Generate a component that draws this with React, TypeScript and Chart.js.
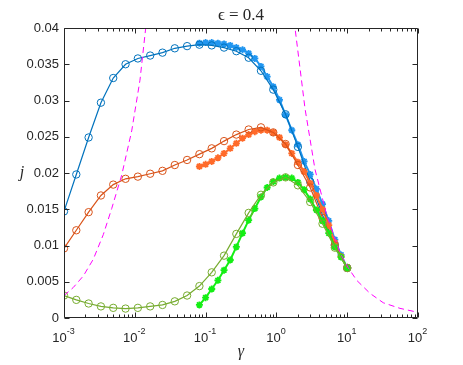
import React, { useEffect, useRef } from 'react';
import { Chart, registerables } from 'chart.js';

Chart.register(...registerables);

// gamma grid of the circle series (24 points, log-spaced 1e-3 .. 10)
const circleGamma = [
  0.001, 0.001492, 0.002227, 0.003323, 0.00496, 0.007401, 0.011045, 0.016484,
  0.024601, 0.036714, 0.05479, 0.081768, 0.12203, 0.18211, 0.27178, 0.4056,
  0.60531, 0.90335, 1.3481, 2.0119, 3.0025, 4.4809, 6.6873, 10,
];
// gamma grid of the star series (25 points, 0.08 .. 10)
const starGamma = [
  0.08177, 0.1, 0.12203, 0.14925, 0.18211, 0.22277, 0.27178, 0.33246, 0.4056,
  0.49614, 0.60531, 0.74045, 0.90335, 1.1052, 1.3481, 1.6494, 2.0119, 2.4618,
  3.0025, 3.6728, 4.4809, 5.4829, 6.6873, 8.1839, 10,
];

const blueCircles = [
  0.0147, 0.0198, 0.0249, 0.0297, 0.0331, 0.035, 0.0358, 0.0362, 0.0366, 0.0372,
  0.0375, 0.0377, 0.0376, 0.0373, 0.0368, 0.0359, 0.0341, 0.0315, 0.0281, 0.0236,
  0.0188, 0.0142, 0.0101, 0.0069,
];
const orangeCircles = [
  0.0096, 0.0121, 0.0146, 0.0169, 0.0184, 0.0192, 0.0195, 0.0199, 0.0203, 0.0211,
  0.0218, 0.0226, 0.0234, 0.0244, 0.0253, 0.026, 0.0263, 0.0256, 0.024, 0.0211,
  0.018, 0.0138, 0.01, 0.0069,
];
const greenCircles = [
  0.0031, 0.0025, 0.002, 0.0016, 0.0014, 0.0013, 0.0014, 0.0016, 0.0018, 0.0023,
  0.0031, 0.0044, 0.0063, 0.0086, 0.0116, 0.0145, 0.017, 0.0187, 0.0194, 0.0183,
  0.016, 0.013, 0.0097, 0.0069,
];

const blueStars = [
  0.0379, 0.038, 0.038, 0.0379, 0.0378, 0.0376, 0.0373, 0.037, 0.0365, 0.0358,
  0.0347, 0.0333, 0.0319, 0.0301, 0.028, 0.0259, 0.0239, 0.0216, 0.0198, 0.0178,
  0.0157, 0.0134, 0.0108, 0.0087, 0.0069,
];
const orangeStars = [
  0.0209, 0.0212, 0.0216, 0.0221, 0.0227, 0.0234, 0.0241, 0.0248, 0.0253, 0.0257,
  0.0259, 0.0259, 0.0256, 0.0249, 0.0239, 0.0227, 0.0215, 0.0202, 0.0186, 0.0169,
  0.015, 0.0128, 0.0104, 0.0085, 0.0069,
];
const greenStars = [
  0.0018, 0.0028, 0.004, 0.0052, 0.0066, 0.008, 0.0098, 0.0117, 0.0135, 0.0151,
  0.0167, 0.018, 0.0188, 0.0193, 0.0194, 0.0193, 0.0187, 0.0177, 0.0164, 0.0149,
  0.0134, 0.0117, 0.0098, 0.0084, 0.0069,
];

// magenta dashed reference curve
const dashGamma = [
  0.001, 0.00135, 0.001875, 0.00259, 0.00359, 0.00472, 0.00653, 0.00904, 0.01183,
  0.01426, 0.0166, 1.585, 1.832, 2.535, 3.508, 5.129, 7.907, 10.38, 13.61, 20.99,
  32.36, 55.72, 90.78, 100,
];
const dashJ = [
  0.0031, 0.0042, 0.0058, 0.0081, 0.0115, 0.0151, 0.0197, 0.0258, 0.0328, 0.04,
  0.047, 0.047, 0.04, 0.0289, 0.0205, 0.0142, 0.009, 0.0069, 0.0052, 0.0034,
  0.0021, 0.00133, 0.00087, 0.0008,
];

const yTicks = [0, 0.005, 0.01, 0.015, 0.02, 0.025, 0.03, 0.035, 0.04];
const yTickLabels = ['0', '0.005', '0.01', '0.015', '0.02', '0.025', '0.03', '0.035', '0.04'];
const xTickExponents = [-3, -2, -1, 0, 1, 2];

const titleText = 'ϵ = 0.4';
const xLabelText = 'γ';
const yLabelText = 'j';

const AXIS_COLOR = '#262626';
const SANS = '"Liberation Sans", Arial, sans-serif';
const SERIF = '"Liberation Serif", "Times New Roman", serif';

const pts = (xs: number[], ys: number[]) => xs.map((x, i) => ({ x, y: ys[i] }));

const axesPlugin = {
  id: 'matlabAxes',
  afterDraw(chart: any) {
    const { ctx, chartArea: a, scales } = chart;
    const xs = scales.x;
    const ys = scales.y;
    ctx.save();
    ctx.strokeStyle = AXIS_COLOR;
    ctx.lineWidth = 1;
    ctx.beginPath();
    const L = Math.round(a.left) + 0.5;
    const R = Math.round(a.right) - 0.5;
    const T = Math.round(a.top) + 0.5;
    const B = Math.round(a.bottom) - 0.5;
    ctx.moveTo(L, T);
    ctx.lineTo(R, T);
    ctx.lineTo(R, B);
    ctx.lineTo(L, B);
    ctx.closePath();
    const xTick = (v: number, len: number) => {
      const p = Math.round(xs.getPixelForValue(v)) + 0.5;
      ctx.moveTo(p, B);
      ctx.lineTo(p, B - len);
      ctx.moveTo(p, T);
      ctx.lineTo(p, T + len);
    };
    xTickExponents.forEach((e, i) => {
      const base = Math.pow(10, e);
      xTick(base, 5);
      if (i < xTickExponents.length - 1) {
        for (let m = 2; m <= 9; m++) xTick(m * base, 3);
      }
    });
    yTicks.forEach((v) => {
      const p = Math.round(ys.getPixelForValue(v)) + 0.5;
      ctx.moveTo(L, p);
      ctx.lineTo(L + 5, p);
      ctx.moveTo(R, p);
      ctx.lineTo(R - 5, p);
    });
    ctx.stroke();

    // x tick labels 10^e
    ctx.fillStyle = AXIS_COLOR;
    ctx.textBaseline = 'alphabetic';
    ctx.textAlign = 'left';
    xTickExponents.forEach((e) => {
      const p = xs.getPixelForValue(Math.pow(10, e));
      const baseStr = '10';
      const expStr = e < 0 ? '-' + Math.abs(e) : String(e);
      ctx.font = '13px ' + SANS;
      const wb = ctx.measureText(baseStr).width;
      ctx.font = '9px ' + SANS;
      const we = ctx.measureText(expStr).width;
      const start = p - (wb + we) / 2 - 0.5;
      ctx.font = '13px ' + SANS;
      ctx.fillText(baseStr, start, 342);
      ctx.font = '9px ' + SANS;
      ctx.fillText(expStr, start + wb, 333.5);
    });

    // title and axis labels
    const cx = (a.left + a.right) / 2;
    ctx.textAlign = 'center';
    ctx.font = '17px ' + SERIF;
    ctx.fillText(titleText, cx, 20);
    ctx.font = 'italic 16px ' + SERIF;
    ctx.fillText(xLabelText, cx, 356);
    ctx.textBaseline = 'middle';
    ctx.fillText(yLabelText, 22, (a.top + a.bottom) / 2);
    ctx.restore();
  },
};

export default function App() {
  const ref = useRef<HTMLCanvasElement | null>(null);

  useEffect(() => {
    if (!ref.current) return;
    const circle = (label: string, ys: number[], color: string) => ({
      label,
      data: pts(circleGamma, ys),
      showLine: true,
      borderColor: color,
      backgroundColor: 'rgba(0,0,0,0)',
      borderWidth: 1.2,
      pointStyle: 'circle',
      pointRadius: 3.7,
      pointBorderWidth: 1,
      pointBorderColor: color,
      pointBackgroundColor: 'rgba(0,0,0,0)',
    });
    const star = (label: string, ys: number[], color: string) => ({
      label,
      data: pts(starGamma, ys),
      showLine: true,
      borderColor: color,
      backgroundColor: color,
      borderWidth: 2,
      pointStyle: 'star',
      pointRadius: 3.5,
      pointBorderWidth: 1.8,
      pointBorderColor: color,
      pointBackgroundColor: color,
    });
    const chart = new Chart(ref.current, {
      type: 'scatter',
      data: {
        datasets: [
          {
            label: 'reference',
            data: pts(dashGamma, dashJ),
            showLine: true,
            borderColor: '#FF00FF',
            borderWidth: 1,
            borderDash: [6, 4],
            pointRadius: 0,
            clip: 0,
          } as any,
          circle('green circles', greenCircles, '#77AC30'),
          star('green stars', greenStars, '#14EE14'),
          circle('orange circles', orangeCircles, '#D95319'),
          star('orange stars', orangeStars, '#FF6A2A'),
          circle('blue circles', blueCircles, '#0072BD'),
          star('blue stars', blueStars, '#2196F0'),
        ],
      },
      options: {
        animation: false,
        responsive: false,
        events: [],
        layout: { padding: { top: 28, right: 45, left: 0, bottom: 0 } },
        plugins: {
          legend: { display: false },
          tooltip: { enabled: false },
          title: { display: false },
        },
        scales: {
          x: {
            type: 'logarithmic',
            min: 0.001,
            max: 100,
            ticks: { display: false },
            grid: { display: false, drawTicks: false },
            border: { display: false },
            afterFit: (s: any) => {
              s.height = 47;
            },
          },
          y: {
            type: 'linear',
            min: 0,
            max: 0.04,
            afterBuildTicks: (s: any) => {
              s.ticks = yTicks.map((v) => ({ value: v }));
            },
            ticks: {
              autoSkip: false,
              padding: 5,
              color: AXIS_COLOR,
              font: { family: SANS, size: 13 },
              callback: (_v: any, i: number) => yTickLabels[i],
            },
            grid: { display: false, drawTicks: false },
            border: { display: false },
            afterFit: (s: any) => {
              s.width = 64;
            },
          },
        },
      } as any,
      plugins: [axesPlugin],
    });
    return () => chart.destroy();
  }, []);

  return (
    <div style={{ position: 'absolute', left: 0, top: 0, width: 463, height: 365, background: '#fff' }}>
      <canvas ref={ref} width={463} height={365} style={{ display: 'block' }} />
    </div>
  );
}
